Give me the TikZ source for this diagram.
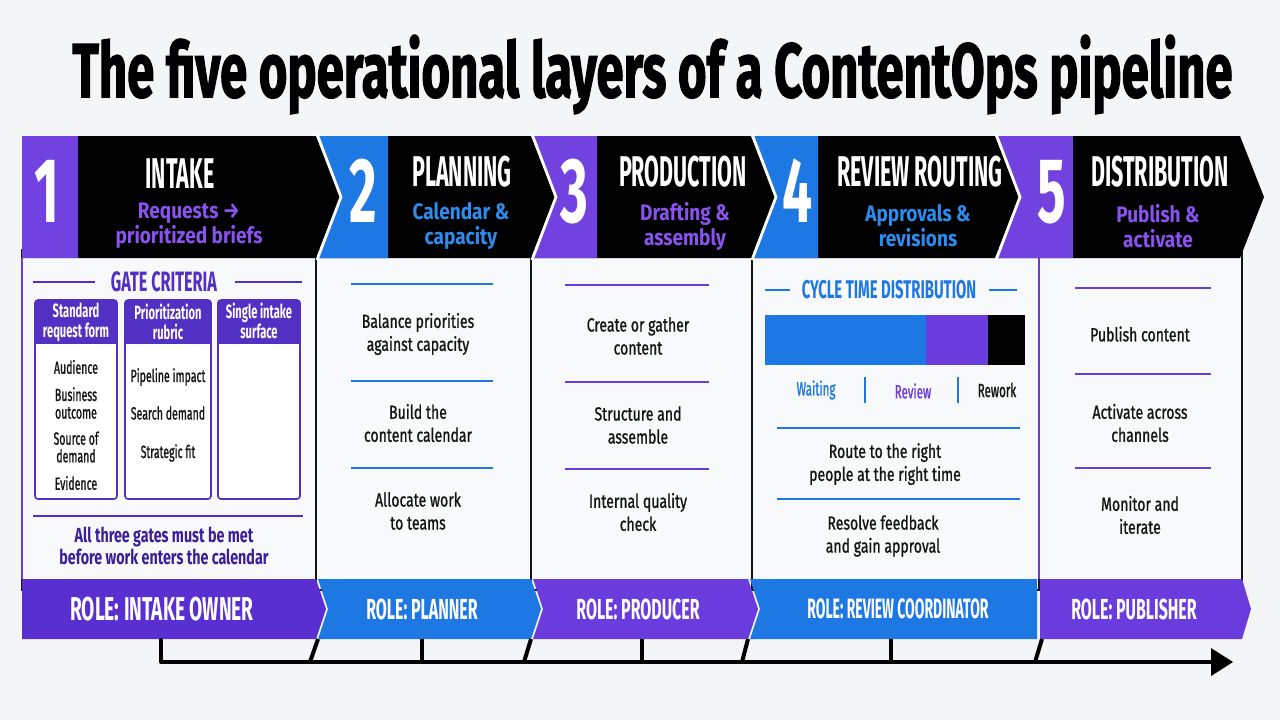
\documentclass[tikz,border=0pt]{standalone}
\usepackage{fontspec}
\setmainfont{Fira Sans}
\newfontfamily\hfont[FakeStretch=0.5]{Fira Sans}
\newfontfamily\nfont[FakeStretch=0.58]{Fira Sans}
\newfontfamily\rfont[FakeStretch=0.55]{Fira Sans}
\newfontfamily\gfont[FakeStretch=0.58]{Fira Sans}
\newfontfamily\subfont[FakeStretch=0.85]{Fira Sans}
\newfontfamily\notefont[FakeStretch=0.7]{Fira Sans}
\newfontfamily\bodyfont[FakeStretch=0.74,FakeBold=1]{Fira Sans}
\newfontfamily\smallfont[FakeStretch=0.6,FakeBold=1]{Fira Sans}
\newfontfamily\titlefont[FakeBold=2]{Fira Sans}
\definecolor{bgc}{HTML}{F4F5F7}
\definecolor{panel}{HTML}{F8F9FA}
\definecolor{pur}{HTML}{7142E0}
\definecolor{purrole}{HTML}{5A2FD2}
\definecolor{pur2}{HTML}{6B3CDD}
\definecolor{blu}{HTML}{1E78E4}
\definecolor{subpur}{HTML}{8A52EE}
\definecolor{subblu}{HTML}{2D8CF0}
\definecolor{gatep}{HTML}{5230C4}
\definecolor{darkp}{HTML}{3A1E9A}
\definecolor{ink}{HTML}{141414}
\tikzset{
  hdr/.style={font=\hfont\bfseries\fontsize{21.5}{21.5}\selectfont, text=white, anchor=base, inner sep=0pt},
  num/.style={font=\nfont\bfseries\fontsize{46}{46}\selectfont, text=white, anchor=base, inner sep=0pt},
  sub/.style={font=\subfont\bfseries\fontsize{11.2}{12.4}\selectfont, align=center, inner sep=0pt},
  role/.style={font=\rfont\bfseries\fontsize{14.5}{14.5}\selectfont, text=white, inner sep=0pt},
  item/.style={font=\bodyfont\fontsize{9.5}{11.5}\selectfont, align=center, text=ink, inner sep=0pt},
  gitem/.style={font=\smallfont\fontsize{8.8}{8.8}\selectfont, align=center, text=ink, inner sep=0pt},
  ghead/.style={font=\gfont\bfseries\fontsize{9.6}{10}\selectfont, align=center, text=white, inner sep=0pt},
  sect/.style={inner sep=0pt},
  pnl/.style={fill=panel, draw=ink, line width=0.7pt},
  sepw/.style={draw=white, line width=1.4pt},
  rule/.style={line width=0.9pt},
  axis/.style={line width=2pt, draw=black}
}
\begin{document}
\begin{tikzpicture}[x=0.5pt,y=-0.5pt]
\useasboundingbox (0,0) rectangle (1280,720);
\fill[bgc] (0,0) rectangle (1280,720);

% title
\node[anchor=base west, inner sep=0pt] (title) at (72,97)
  {\resizebox{580pt}{31pt}{\titlefont\bfseries The five operational layers of a ContentOps pipeline}};

% body panels
\draw[pnl] (22,250) rectangle (316,590);
\draw[pnl] (316,250) rectangle (531,590);
\draw[pnl] (531,250) rectangle (752,590);
\draw[pnl] (752,250) rectangle (1039,590);
\draw[pnl] (1039,250) rectangle (1242,590);
\draw[pur2, line width=0.8pt] (22,258) -- (22,579);
\draw[pur2, line width=0.8pt] (1039,258) -- (1039,579);

% header chevrons
\fill[black] (22,136)--(316,136)--(340,197)--(316,258)--(22,258)--cycle;
\fill[black] (318,136)--(531,136)--(555,197)--(531,258)--(318,258)--(342,197)--cycle;
\fill[black] (533,136)--(751,136)--(775,197)--(751,258)--(533,258)--(557,197)--cycle;
\fill[black] (753,136)--(995,136)--(1019,197)--(995,258)--(753,258)--(777,197)--cycle;
\fill[black] (997,136)--(1240,136)--(1264,197)--(1240,258)--(997,258)--(1021,197)--cycle;
\fill[pur] (22,136) rectangle (78,258);
\fill[blu] (318,136)--(388,136)--(388,258)--(318,258)--(342,197)--cycle;
\fill[pur] (533,136)--(597,136)--(597,258)--(533,258)--(557,197)--cycle;
\fill[blu] (753,136)--(818,136)--(818,258)--(753,258)--(777,197)--cycle;
\fill[pur] (997,136)--(1073,136)--(1073,258)--(997,258)--(1021,197)--cycle;
\draw[sepw] (317,134)--(341,197)--(317,260);
\draw[sepw] (532,134)--(556,197)--(532,260);
\draw[sepw] (752,134)--(776,197)--(752,260);
\draw[sepw] (996,134)--(1020,197)--(996,260);

\node[num] (n1) at (47,222) {1};
\node[num] (n2) at (363,222) {2};
\node[num] (n3) at (574,222) {3};
\node[num] (n4) at (798,222) {4};
\node[num] (n5) at (1052,222) {5};
\node[hdr] (h1) at (180,188) {INTAKE};
\node[hdr] (h2) at (462,186) {PLANNING};
\node[hdr] (h3) at (683,186) {PRODUCTION};
\node[hdr] (h4) at (920,186) {REVIEW ROUTING};
\node[hdr] (h5) at (1160,186) {DISTRIBUTION};
\node[sub, text=subpur] (s1) at (189,226) {Requests →\\prioritized briefs};
\node[sub, text=subblu] (s2) at (461,226) {Calendar \&\\capacity};
\node[sub, text=subpur] (s3) at (685,226) {Drafting \&\\assembly};
\node[sub, text=subblu] (s4) at (918,226) {Approvals \&\\revisions};
\node[sub, text=subpur] (s5) at (1158,226) {Publish \&\\activate};

% column 1: gate criteria
\node[sect, text=gatep, font=\gfont\bfseries\fontsize{14}{14}\selectfont] (gc) at (164,282) {GATE CRITERIA};
\draw[rule, gatep] (33,282) -- (95,282);
\draw[rule, gatep] (235,282) -- (302,282);
\foreach \a/\b in {35/117,125/211,218/300} {
  \fill[white, rounded corners=1.5pt] (\a,300) rectangle (\b,499);
  \begin{scope}
    \clip[rounded corners=1.5pt] (\a,300) rectangle (\b,499);
    \fill[gatep] (\a,300) rectangle (\b,344);
  \end{scope}
  \draw[gatep, line width=0.8pt, rounded corners=1.5pt] (\a,300) rectangle (\b,499);
}
\node[ghead] (g1) at (76,322) {Standard\\request form};
\node[ghead] (g2) at (168,322) {Prioritization\\rubric};
\node[ghead] (g3) at (259,321) {Single intake\\surface};
\node[gitem] (g1a) at (76,367) {Audience};
\node[gitem] (g1b) at (76,403) {Business\\outcome};
\node[gitem] (g1c) at (76,447) {Source of\\demand};
\node[gitem] (g1d) at (76,483) {Evidence};
\node[gitem] (g2a) at (168,377) {Pipeline impact};
\node[gitem] (g2b) at (168,413) {Search demand};
\node[gitem] (g2c) at (168,453) {Strategic fit};
\draw[rule, gatep] (33,516) -- (303,516);
\node[font=\notefont\bfseries\fontsize{10.2}{10}\selectfont, align=center, text=darkp, inner sep=0pt] (gnote) at (164,546)
  {All three gates must be met\\before work enters the calendar};

% column 2
\draw[rule, blu] (351,284) -- (493,284);
\draw[rule, blu] (351,381) -- (493,381);
\draw[rule, blu] (351,468) -- (493,468);
\node[item] (p1) at (418,334) {Balance priorities\\against capacity};
\node[item] (p2) at (418,423) {Build the\\content calendar};
\node[item] (p3) at (418,511) {Allocate work\\to teams};

% column 3
\draw[rule, pur2] (565,285) -- (709,285);
\draw[rule, pur2] (565,382) -- (709,382);
\draw[rule, pur2] (565,469) -- (709,469);
\node[item] (q1) at (638,336) {Create or gather\\content};
\node[item] (q2) at (638,425) {Structure and\\assemble};
\node[item] (q3) at (638,512) {Internal quality\\check};

% column 4
\node[sect, text=blu, font=\gfont\bfseries\fontsize{12.8}{12.8}\selectfont] (ct) at (889,290) {CYCLE TIME DISTRIBUTION};
\draw[rule, blu] (765,290) -- (790,290);
\draw[rule, blu] (989,290) -- (1017,290);
\fill[blu] (765,315) rectangle (926,365);
\fill[pur2] (926,315) rectangle (988,365);
\fill[black] (988,315) rectangle (1025,365);
\node[gitem, text=blu, font=\smallfont\fontsize{9.6}{9.6}\selectfont] (lw) at (816,390) {Waiting};
\node[gitem, text=pur2, font=\smallfont\fontsize{9.6}{9.6}\selectfont] (lr) at (913,391) {Review};
\node[gitem, font=\smallfont\fontsize{9.6}{9.6}\selectfont] (lk) at (997,390) {Rework};
\draw[blu, line width=0.8pt] (865,377) -- (865,403);
\draw[blu, line width=0.8pt] (958,377) -- (958,403);
\draw[rule, blu] (777,428) -- (1020,428);
\node[item] (r1) at (885,464) {Route to the right\\people at the right time};
\draw[rule, blu] (777,499) -- (1020,499);
\node[item] (r2) at (883,536) {Resolve feedback\\and gain approval};

% column 5
\draw[rule, pur2] (1075,288) -- (1211,288);
\draw[rule, pur2] (1075,374) -- (1211,374);
\draw[rule, pur2] (1075,468) -- (1211,468);
\node[item] (d1) at (1140,334) {Publish content};
\node[item] (d2) at (1140,423) {Activate across\\channels};
\node[item] (d3) at (1140,515) {Monitor and\\iterate};

% role bars
\fill[purrole] (22,579)--(316,579)--(326,609)--(316,639)--(22,639)--cycle;
\fill[blu] (318,579)--(531,579)--(541,609)--(531,639)--(318,639)--(328,609)--cycle;
\fill[pur2] (533,579)--(748,579)--(758,609)--(748,639)--(533,639)--(543,609)--cycle;
\fill[blu] (750,579)--(1037,579)--(1037,639)--(750,639)--(760,609)--cycle;
\fill[pur2] (1040,579)--(1242,579)--(1251,609)--(1242,639)--(1040,639)--cycle;
\node[role, font=\nfont\bfseries\fontsize{16.5}{16.5}\selectfont] (ro1) at (162,609) {ROLE: INTAKE OWNER};
\node[role] (ro2) at (422,609) {ROLE: PLANNER};
\node[role] (ro3) at (638,609) {ROLE: PRODUCER};
\node[role, font=\hfont\bfseries\fontsize{14}{14}\selectfont] (ro4) at (898,609) {ROLE: REVIEW COORDINATOR};
\node[role] (ro5) at (1134,609) {ROLE: PUBLISHER};

% time axis
\coordinate (a0) at (161,640);
\coordinate (a1) at (161,662);
\coordinate (a2) at (1214,662);
\draw[axis, line cap=round, line join=round] (a0) -- (a1) -- (a2);
\fill[black] (1211,648) -- (1233,662) -- (1211,676) -- cycle;
\draw[axis] (318,639) -- (310,662);
\draw[axis] (422,639) -- (422,662);
\draw[axis] (531,639) -- (524,662);
\draw[axis] (642,639) -- (642,662);
\draw[axis] (748,639) -- (742,662);
\draw[axis] (891,639) -- (891,662);
\draw[axis] (1042,639) -- (1035,662);
\end{tikzpicture}
\end{document}
